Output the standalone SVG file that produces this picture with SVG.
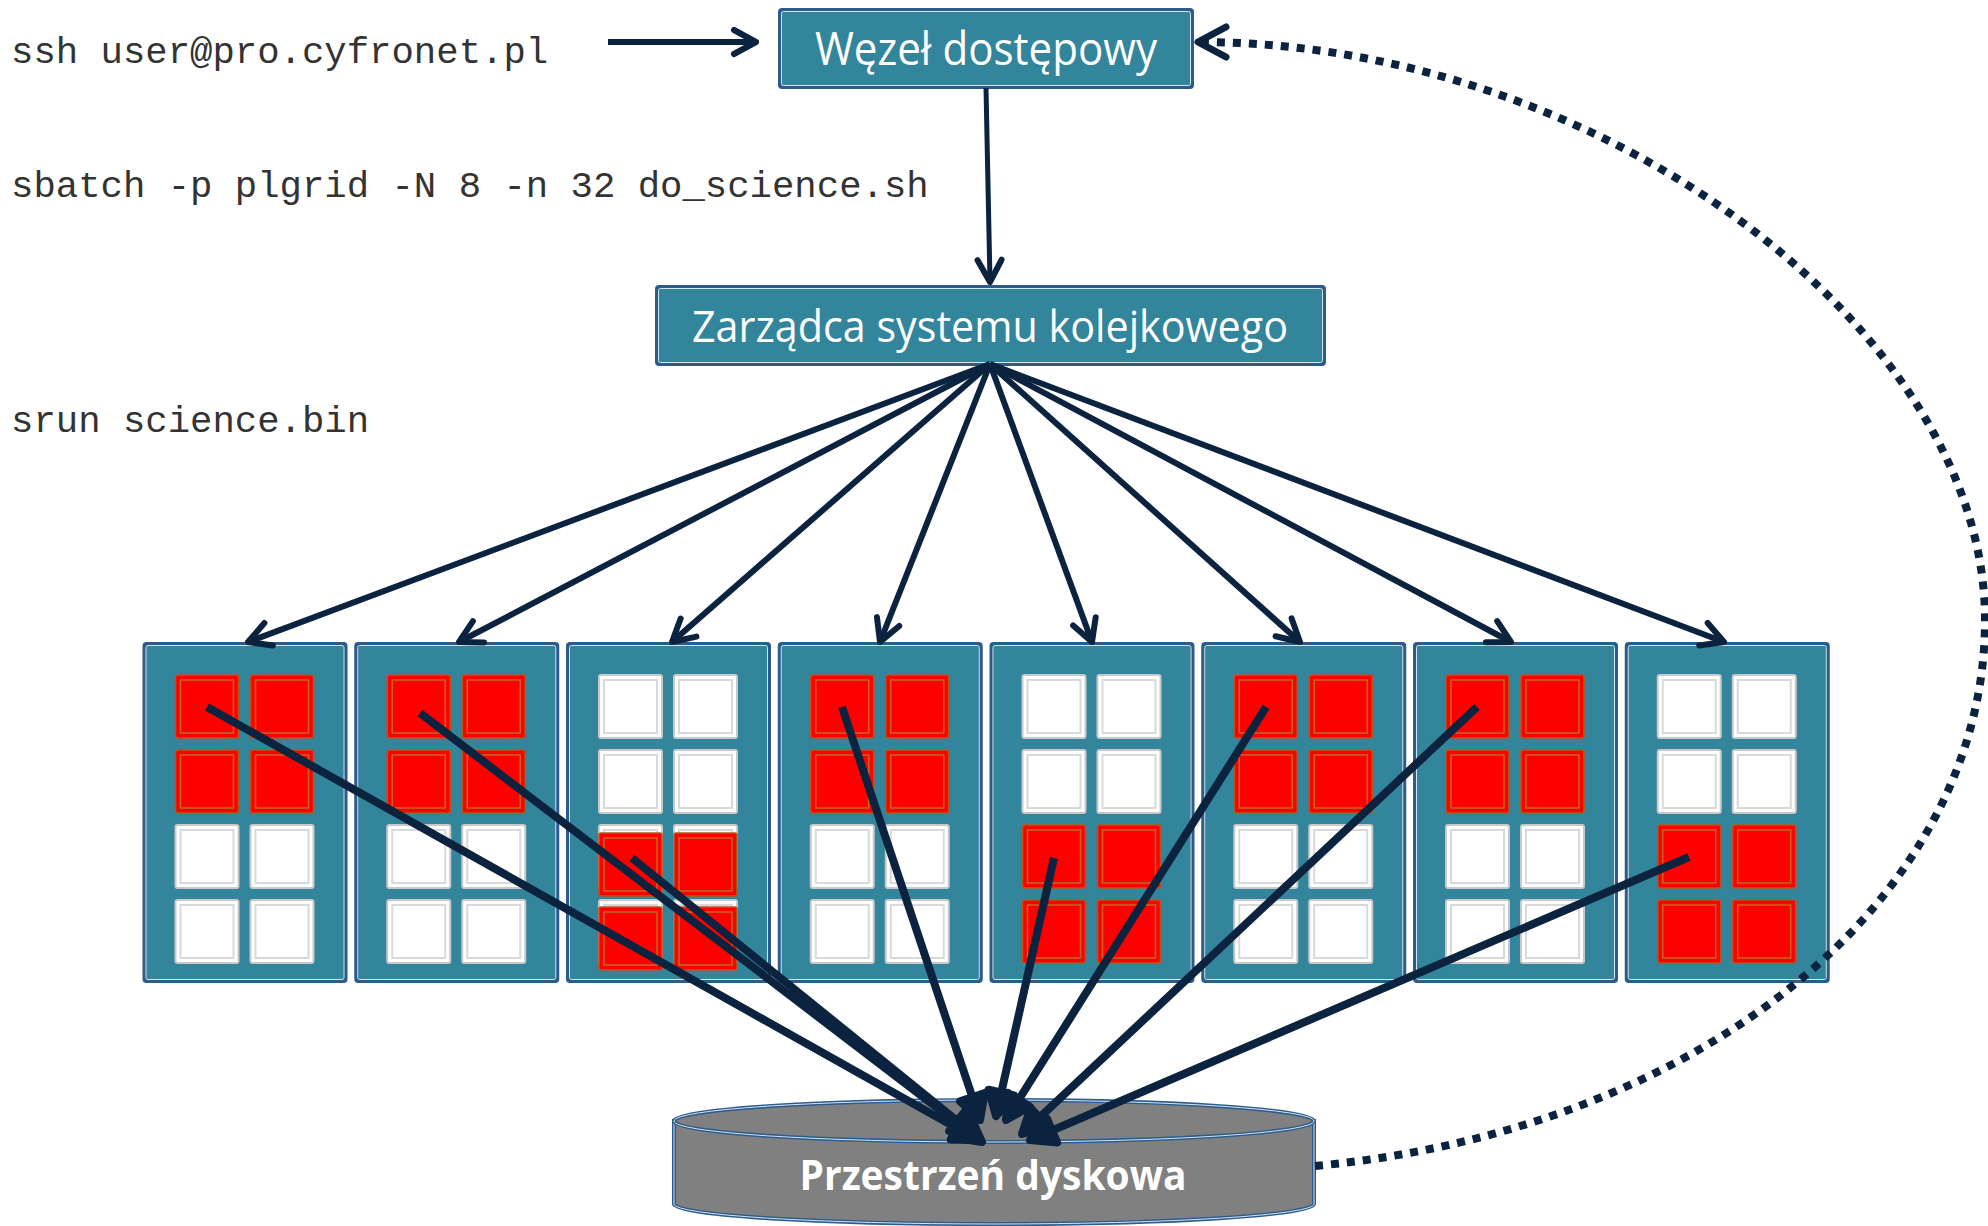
<svg xmlns="http://www.w3.org/2000/svg" xmlns:xlink="http://www.w3.org/1999/xlink" width="1988" height="1226" viewBox="0 0 1988 1226">
  <style>
    .cmd { font-family: "Liberation Mono", "DejaVu Sans Mono", monospace; font-size: 37.3px; fill: #333333; }
    .lbl { font-family: "Open Sans", "Noto Sans", sans-serif; fill: #ffffff; text-anchor: middle; }
    .box { fill: #32859B; stroke: #2B5C8C; stroke-width: 4; }
    .boxHi { fill: none; stroke: #D6E4F0; stroke-width: 1; }
    .wire { fill: none; stroke: #0C2340; stroke-linecap: butt; }
    .fan { stroke-width: 6; marker-end: url(#chev); }
    .io { stroke-width: 8; marker-end: url(#chevBold); }
  </style>
  <defs>
    <marker id="chev" markerUnits="userSpaceOnUse" orient="auto" refX="0" refY="0" overflow="visible">
      <path d="M-22,-12 L0,0 L-22,12" fill="none" stroke="#0C2340" stroke-width="6" stroke-linecap="round" stroke-linejoin="round"/>
    </marker>
    <marker id="chevBold" markerUnits="userSpaceOnUse" orient="auto" refX="0" refY="0" overflow="visible">
      <path d="M-24,-13 L0,0 L-24,13 Z" fill="#0C2340" stroke="#0C2340" stroke-width="8" stroke-linecap="round" stroke-linejoin="round"/>
    </marker>
    <marker id="chevBack" markerUnits="userSpaceOnUse" orient="auto" refX="0" refY="0" overflow="visible">
      <path d="M-28,-15 L0,0 L-28,15" fill="none" stroke="#0C2340" stroke-width="7" stroke-linecap="round" stroke-linejoin="round"/>
    </marker>
    <!-- busy core -->
    <g id="coreBusy">
      <rect x="0" y="0" width="63" height="63" rx="2" fill="#FF0000" stroke="#B5561E" stroke-width="1.6"/>
      <rect x="5" y="5" width="53" height="53" fill="none" stroke="#C4611C" stroke-width="1.6"/>
    </g>
    <!-- idle core -->
    <g id="coreIdle">
      <rect x="0" y="0" width="63" height="63" rx="2" fill="#FFFFFF" stroke="#C9C9C9" stroke-width="2"/>
      <rect x="5" y="5" width="53" height="53" fill="none" stroke="#D9D9D9" stroke-width="2"/>
    </g>
    <!-- two-core rows -->
    <g id="pairBusy">
      <use xlink:href="#coreBusy" x="31" y="0"/>
      <use xlink:href="#coreBusy" x="106" y="0"/>
    </g>
    <g id="pairIdle">
      <use xlink:href="#coreIdle" x="31" y="0"/>
      <use xlink:href="#coreIdle" x="106" y="0"/>
    </g>
    <g id="chassis">
      <rect class="box" x="0" y="0" width="201" height="337" rx="2"/>
      <rect class="boxHi" x="1.5" y="1.5" width="198" height="334" rx="2"/>
    </g>
  </defs>

  <rect width="1988" height="1226" fill="#ffffff"/>

  <!-- shell commands -->
  <g id="commands">
    <text class="cmd" x="11" y="63">ssh user@pro.cyfronet.pl</text>
    <text class="cmd" x="11" y="197">sbatch -p plgrid -N 8 -n 32 do_science.sh</text>
    <text class="cmd" x="11" y="432">srun science.bin</text>
  </g>

  <!-- login node -->
  <g id="login-node">
    <rect class="box" x="780" y="10" width="412" height="77" rx="2"/>
    <rect class="boxHi" x="781.5" y="11.5" width="409" height="74" rx="2"/>
    <text class="lbl" x="986" y="65" font-size="45" textLength="342" lengthAdjust="spacingAndGlyphs">Węzeł dostępowy</text>
  </g>

  <!-- queue manager -->
  <g id="queue-manager">
    <rect class="box" x="657" y="287" width="667" height="77" rx="2"/>
    <rect class="boxHi" x="658.5" y="288.5" width="664" height="74" rx="2"/>
    <text class="lbl" x="990" y="342" font-size="43" textLength="596" lengthAdjust="spacingAndGlyphs">Zarządca systemu kolejkowego</text>
  </g>

  <!-- compute nodes -->
  <g id="node-1" transform="translate(144.5,644)">
    <use xlink:href="#chassis"/>
    <use xlink:href="#pairBusy" y="31"/><use xlink:href="#pairBusy" y="106"/>
    <use xlink:href="#pairIdle" y="181"/><use xlink:href="#pairIdle" y="256"/>
  </g>
  <g id="node-2" transform="translate(356.25,644)">
    <use xlink:href="#chassis"/>
    <use xlink:href="#pairBusy" y="31"/><use xlink:href="#pairBusy" y="106"/>
    <use xlink:href="#pairIdle" y="181"/><use xlink:href="#pairIdle" y="256"/>
  </g>
  <g id="node-3" transform="translate(568,644)">
    <use xlink:href="#chassis"/>
    <use xlink:href="#pairIdle" y="31"/><use xlink:href="#pairIdle" y="106"/>
    <use xlink:href="#pairIdle" y="181"/><use xlink:href="#pairIdle" y="256"/>
    <use xlink:href="#pairBusy" y="189"/><use xlink:href="#pairBusy" y="263"/>
  </g>
  <g id="node-4" transform="translate(779.75,644)">
    <use xlink:href="#chassis"/>
    <use xlink:href="#pairBusy" y="31"/><use xlink:href="#pairBusy" y="106"/>
    <use xlink:href="#pairIdle" y="181"/><use xlink:href="#pairIdle" y="256"/>
  </g>
  <g id="node-5" transform="translate(991.5,644)">
    <use xlink:href="#chassis"/>
    <use xlink:href="#pairIdle" y="31"/><use xlink:href="#pairIdle" y="106"/>
    <use xlink:href="#pairBusy" y="181"/><use xlink:href="#pairBusy" y="256"/>
  </g>
  <g id="node-6" transform="translate(1203.25,644)">
    <use xlink:href="#chassis"/>
    <use xlink:href="#pairBusy" y="31"/><use xlink:href="#pairBusy" y="106"/>
    <use xlink:href="#pairIdle" y="181"/><use xlink:href="#pairIdle" y="256"/>
  </g>
  <g id="node-7" transform="translate(1415,644)">
    <use xlink:href="#chassis"/>
    <use xlink:href="#pairBusy" y="31"/><use xlink:href="#pairBusy" y="106"/>
    <use xlink:href="#pairIdle" y="181"/><use xlink:href="#pairIdle" y="256"/>
  </g>
  <g id="node-8" transform="translate(1626.75,644)">
    <use xlink:href="#chassis"/>
    <use xlink:href="#pairIdle" y="31"/><use xlink:href="#pairIdle" y="106"/>
    <use xlink:href="#pairBusy" y="181"/><use xlink:href="#pairBusy" y="256"/>
  </g>

  <!-- shared storage cylinder -->
  <g id="storage">
    <path d="M674,1121 L674,1204 A320,20 0 0 0 1314,1204 L1314,1121 Z" fill="#808080" stroke="#2B5C8C" stroke-width="4"/>
    <path d="M674,1121 L674,1204 A320,20 0 0 0 1314,1204 L1314,1121" fill="none" stroke="#D6E4F0" stroke-width="1"/>
    <ellipse cx="994" cy="1121" rx="320" ry="21" fill="#808080" stroke="#2B5C8C" stroke-width="4"/>
    <ellipse cx="994" cy="1121" rx="320" ry="21" fill="none" stroke="#D6E4F0" stroke-width="1"/>
    <text class="lbl" x="993" y="1190" font-size="42" font-weight="bold" textLength="387" lengthAdjust="spacingAndGlyphs">Przestrzeń dyskowa</text>
  </g>

  <g id="connectors">
    <!-- login -->
    <line class="wire" x1="608" y1="42" x2="756" y2="42" stroke-width="6" marker-end="url(#chev)"/>
    <!-- job submission -->
    <line class="wire" x1="986" y1="88" x2="990" y2="282" stroke-width="5" marker-end="url(#chev)"/>
    <!-- task dispatch -->
    <line class="wire fan" x1="990" y1="364" x2="248" y2="642"/>
    <line class="wire fan" x1="990" y1="364" x2="459" y2="642"/>
    <line class="wire fan" x1="990" y1="364" x2="672" y2="642"/>
    <line class="wire fan" x1="990" y1="364" x2="880" y2="642"/>
    <line class="wire fan" x1="990" y1="364" x2="1092" y2="642"/>
    <line class="wire fan" x1="990" y1="364" x2="1300" y2="642"/>
    <line class="wire fan" x1="990" y1="364" x2="1511" y2="642"/>
    <line class="wire fan" x1="990" y1="364" x2="1724" y2="642"/>
    <!-- I/O to storage -->
    <line class="wire io" x1="207" y1="707" x2="978" y2="1140"/>
    <line class="wire io" x1="420" y1="713" x2="982" y2="1142"/>
    <line class="wire io" x1="632" y1="858" x2="976" y2="1136"/>
    <line class="wire io" x1="842" y1="707" x2="980" y2="1120"/>
    <line class="wire io" x1="1054" y1="858" x2="996" y2="1116"/>
    <line class="wire io" x1="1266" y1="707" x2="1006" y2="1120"/>
    <line class="wire io" x1="1477" y1="707" x2="1022" y2="1134"/>
    <line class="wire io" x1="1689" y1="857" x2="1030" y2="1140"/>
    <!-- results back to the login node -->
    <path class="wire" d="M1315,1166 C1700,1130 1985,900 1985,620 C1985,330 1600,42 1198,42" stroke-width="8" stroke-dasharray="8 8" marker-end="url(#chevBack)"/>
  </g>
</svg>
